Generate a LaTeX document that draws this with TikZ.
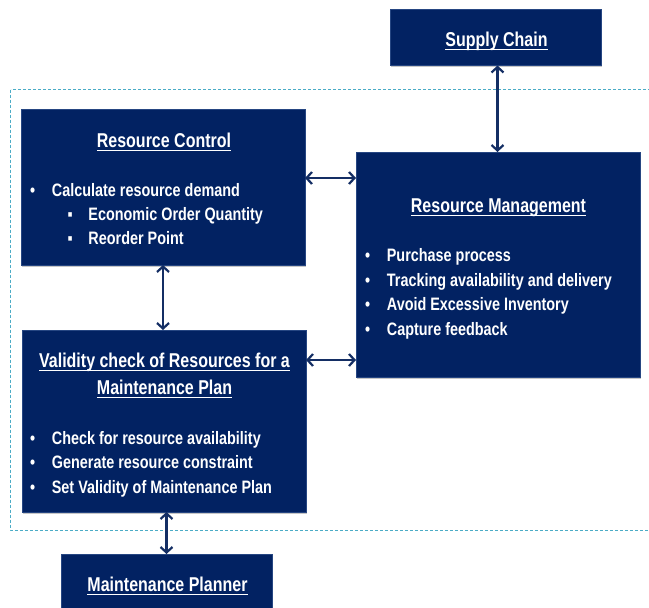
\documentclass[tikz,border=0pt]{standalone}
\usepackage{fontspec}
\setmainfont[FakeStretch=0.8]{Liberation Sans}
\usetikzlibrary{arrows.meta,shadows}
\definecolor{boxblue}{RGB}{2,34,98}
\definecolor{boxedge}{RGB}{38,70,130}
\definecolor{arrowblue}{RGB}{20,46,100}
\definecolor{dashblue}{RGB}{75,172,198}
\newcommand\ulttl[1]{\setbox0\hbox{#1}\rlap{\rule[-3.6pt]{\wd0}{1.3pt}}\box0}
\newcommand\bl[1]{\makebox[21.7pt][l]{•}#1}
\newcommand\sbl[1]{\makebox[20.8pt][l]{▪}#1}
\tikzset{
 box/.style={fill=boxblue, draw=boxedge, line width=0.7pt, inner sep=0pt, outer sep=0pt,
   drop shadow={shadow xshift=1.2pt, shadow yshift=-1.8pt, opacity=0.45}},
 ttl/.style={text=white, font=\bfseries\fontsize{20}{24}\selectfont, inner sep=0pt, anchor=base},
 itm/.style={text=white, font=\bfseries\fontsize{18}{22}\selectfont, inner sep=0pt, anchor=base west},
 conn/.style={draw=arrowblue, line width=2.2pt,
   {Straight Barb[length=5.5pt,width=12pt,line width=2.2pt]}-{Straight Barb[length=5.5pt,width=12pt,line width=2.2pt]}},
 frame/.style={draw=dashblue, line width=0.8pt, dash pattern=on 3pt off 2pt}
}
\begin{document}
\begin{tikzpicture}[x=1pt,y=-1pt]
\useasboundingbox (0,0) rectangle (649,608);
\clip (0,0) rectangle (649,608);
\draw[frame] (10.5,89.5) rectangle (665,530);
% boxes
\node[box, minimum width=211, minimum height=56] (sc) at (495.5,37.5) {};
\node[box, minimum width=284, minimum height=156] (rc) at (163,187) {};
\node[box, minimum width=284, minimum height=225] (rm) at (498,264.5) {};
\node[box, minimum width=284, minimum height=182] (vc) at (164,421) {};
\node[box, minimum width=211, minimum height=72] (mp) at (166.5,590) {};
% titles
\node[ttl] (sct) at (496.5,46.7) {\ulttl{Supply Chain}};
\node[ttl] (rct) at (164,147.7) {\ulttl{Resource Control}};
\node[ttl] (rmt) at (498.5,212.7) {\ulttl{Resource Management}};
\node[ttl] (vct1) at (164.5,367.3) {\ulttl{Validity check of Resources for a}};
\node[ttl] (vct2) at (164.5,394.3) {\ulttl{Maintenance Plan}};
\node[ttl] (mpt) at (167.5,591.7) {\ulttl{Maintenance Planner}};
% resource control items
\node[itm] (rc1) at (30,196.7) {\bl{Calculate resource demand}};
\node[itm] (rc2) at (67.5,220.5) {\sbl{Economic Order Quantity}};
\node[itm] (rc3) at (67.5,244.7) {\sbl{Reorder Point}};
% resource management items
\node[itm] (rm1) at (365,261.7) {\bl{Purchase process}};
\node[itm] (rm2) at (365,286) {\bl{Tracking availability and delivery}};
\node[itm] (rm3) at (365,310.5) {\bl{Avoid Excessive Inventory}};
\node[itm] (rm4) at (365,335) {\bl{Capture feedback}};
% validity items
\node[itm] (vc1) at (30,444.3) {\bl{Check for resource availability}};
\node[itm] (vc2) at (30,468.6) {\bl{Generate resource constraint}};
\node[itm] (vc3) at (30,493) {\bl{Set Validity of Maintenance Plan}};
% connectors
\coordinate (a1) at ([yshift=9pt]rc.east);
\draw[conn] (a1) -- (a1 -| rm.west);
\coordinate (a2) at ([yshift=61pt]vc.east);
\draw[conn] (a2) -- (a2 -| rm.west);
\draw[conn] (rc.south) -- (rc.south |- vc.north);
\draw[conn] ([xshift=2pt]sc.south) -- ([xshift=2pt]sc.south |- rm.north);
\draw[conn] (mp.north |- vc.south) -- (mp.north);
\end{tikzpicture}
\end{document}
